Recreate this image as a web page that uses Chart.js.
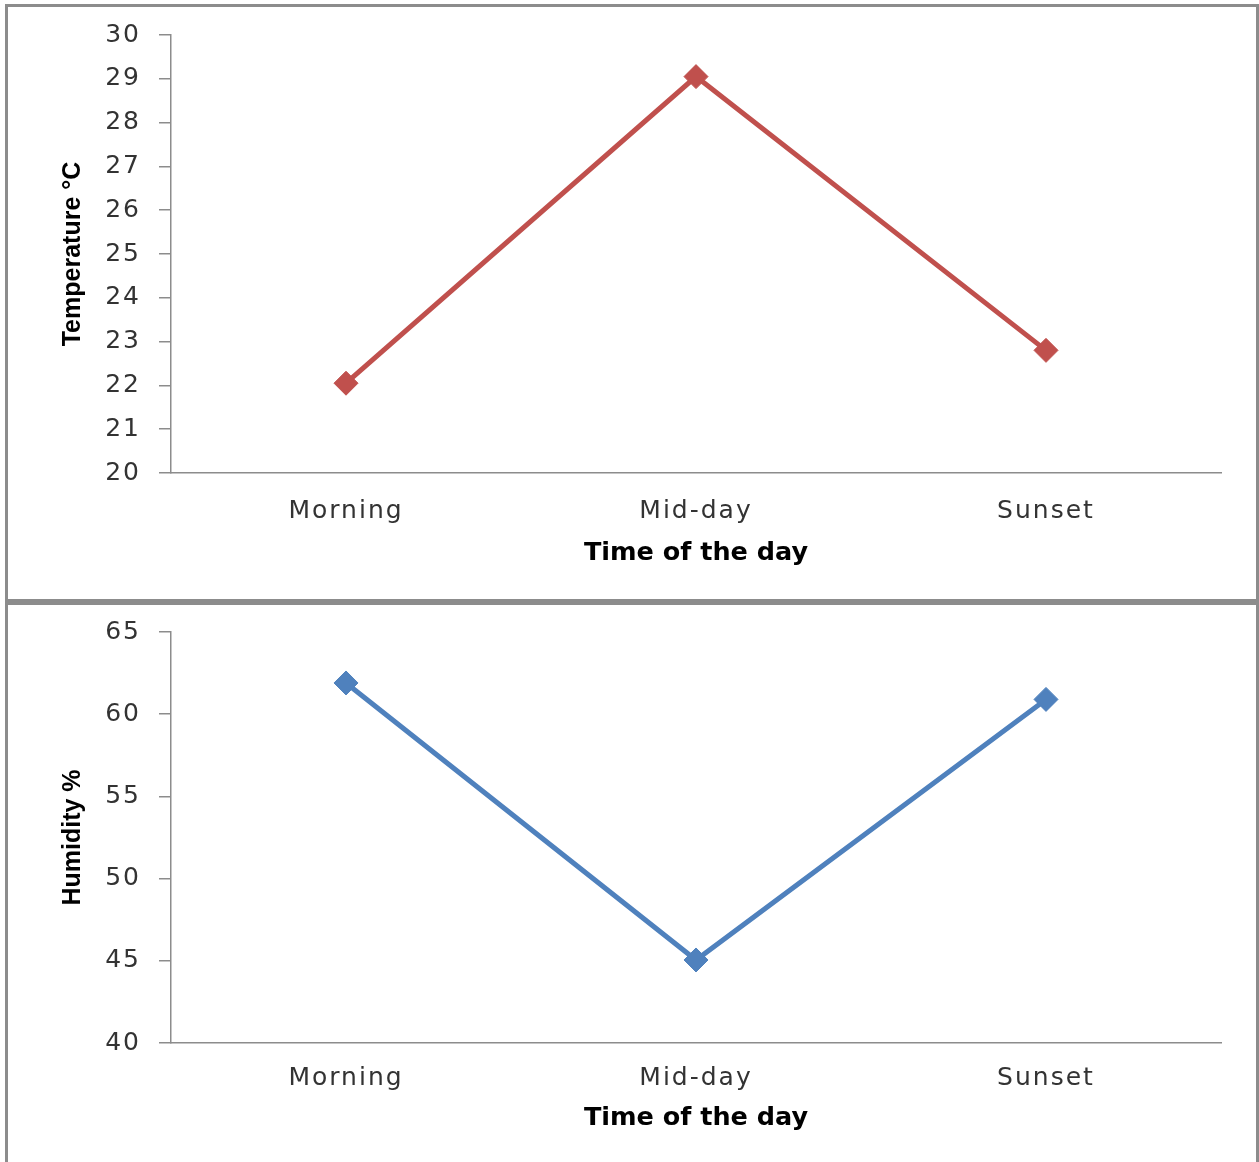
<!DOCTYPE html>
<html>
<head>
<meta charset="utf-8">
<script src="https://cdn.jsdelivr.net/npm/chart.js@4/dist/chart.umd.min.js"></script>
<style>
  html, body { margin: 0; padding: 0; background: #fff; overflow: hidden; width: 1259px; height: 1162px; }
  .box { position: absolute; left: 5px; width: 1248px; border: 3px solid #8c8c8c; background: #fff; }
  canvas { display: block; }
</style>
</head>
<body>
<div class="box" style="top:4px;height:592px"><canvas id="tempChart" width="1248" height="592"></canvas></div>
<div class="box" style="top:602px;height:570px"><canvas id="humChart" width="1248" height="557"></canvas></div>
<script>
// datos
const timeLabels = ['Morning', 'Mid-day', 'Sunset'];
const temperature = [22.05, 29.05, 22.8];
const humidity = [61.9, 45.05, 60.9];
const tempTicks = [20, 21, 22, 23, 24, 25, 26, 27, 28, 29, 30];
const humTicks = [40, 45, 50, 55, 60, 65];

const axisGray = '#8c8c8c';
const tickFont = { family: '"DejaVu Sans", Verdana, sans-serif', size: 25 };
const xTitleFont = { family: '"DejaVu Sans", Verdana, sans-serif', size: 25.5, weight: 'bold' };
const yTitleFont = { family: '"Liberation Sans", Arial, sans-serif', size: 25, weight: 'bold' };

// el original esta estirado a lo ancho: espaciado solo en el texto normal
function espaciarTexto(ctx) {
  const fill = ctx.fillText;
  ctx.fillText = function (text, x, y, maxWidth) {
    this.letterSpacing = this.font.indexOf('bold') >= 0 ? '0px' : '2px';
    return fill.call(this, text, x, y, maxWidth);
  };
}

function crearConfig(opts) {
  return {
    type: 'line',
    data: {
      labels: timeLabels,
      datasets: [{
        data: opts.values,
        borderColor: opts.color,
        backgroundColor: opts.color,
        borderWidth: 5,
        tension: 0,
        pointStyle: 'rectRot',
        pointRadius: 12,
        pointBorderWidth: 1,
        pointBackgroundColor: opts.color,
        pointBorderColor: opts.color
      }]
    },
    options: {
      responsive: false,
      animation: false,
      layout: { padding: { top: opts.padTop, right: 35, bottom: opts.padBottom, left: 0 } },
      plugins: { legend: { display: false }, tooltip: { enabled: false } },
      scales: {
        x: {
          offset: true,
          grid: { display: true, drawOnChartArea: false, drawTicks: false },
          border: { display: true, color: axisGray, width: 1.5 },
          ticks: { font: tickFont, color: '#333', padding: opts.tickPad, maxRotation: 0 },
          title: { display: true, text: 'Time of the day', font: xTitleFont, color: '#000', padding: { top: 0, bottom: opts.titlePad } },
          afterFit(scale) { scale.height = 100; }
        },
        y: {
          min: opts.ticks[0],
          max: opts.ticks[opts.ticks.length - 1],
          grid: { display: true, drawOnChartArea: false, drawTicks: true, tickLength: 12, color: axisGray, lineWidth: 1.5 },
          border: { display: true, color: axisGray, width: 1.5 },
          ticks: { stepSize: opts.ticks[1] - opts.ticks[0], font: tickFont, color: '#333', padding: 18 },
          title: { display: true, text: opts.yTitle, font: yTitleFont, color: '#000', padding: { top: 50, bottom: 0 } },
          afterFit(scale) {
            scale.width = 163;
            scale.paddingTop = 0;
            scale.paddingBottom = 0;
          }
        }
      }
    }
  };
}

const ctxTemp = document.getElementById('tempChart').getContext('2d');
espaciarTexto(ctxTemp);
new Chart(ctxTemp, crearConfig({
  values: temperature, color: '#C0504D', ticks: tempTicks, yTitle: 'Temperature °C',
  padTop: 28, padBottom: 26, tickPad: 23, titlePad: 4
}));

const ctxHum = document.getElementById('humChart').getContext('2d');
espaciarTexto(ctxHum);
new Chart(ctxHum, crearConfig({
  values: humidity, color: '#4F81BD', ticks: humTicks, yTitle: 'Humidity %',
  padTop: 27, padBottom: 19, tickPad: 20, titlePad: 9
}));
</script>
</body>
</html>
